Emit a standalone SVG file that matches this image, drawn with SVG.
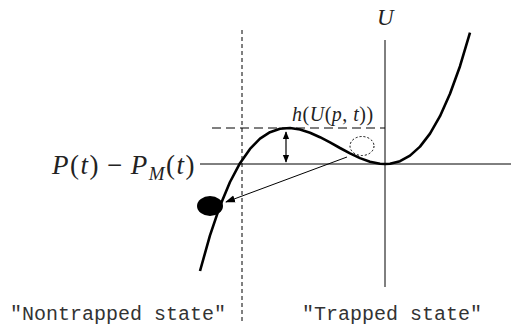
<svg xmlns="http://www.w3.org/2000/svg" width="511" height="330" viewBox="0 0 511 330">
<style>
.ax{stroke:#000;stroke-width:1;fill:none}
.dash{stroke:#000;stroke-width:1;fill:none}
.math{font-family:"Liberation Serif","DejaVu Serif",serif;fill:#222}
.it{font-style:italic}
.mono{font-family:"Liberation Mono","Courier New",monospace;font-size:20px;fill:#333}
</style>
<defs>
<marker id="ah" viewBox="0 0 10 10" refX="9" refY="5" markerWidth="8" markerHeight="8" markerUnits="userSpaceOnUse" orient="auto-start-reverse">
<path d="M0,1 L10,5 L0,9 z" fill="#000"/>
</marker>
<marker id="ah2" viewBox="0 0 10 10" refX="9" refY="5" markerWidth="10" markerHeight="10" markerUnits="userSpaceOnUse" orient="auto">
<path d="M0,1.5 L10,5 L0,8.5 z" fill="#000"/>
</marker>
</defs>
<g id="axes">
<line class="ax" x1="385" y1="40" x2="385" y2="287"/>
<line class="ax" x1="200" y1="164" x2="511" y2="164"/>
<line class="dash" x1="242" y1="30" x2="242" y2="322" stroke-dasharray="4,3"/>
<line class="dash" x1="212" y1="128" x2="385" y2="128" stroke-dasharray="9,5"/>
</g>
<g id="curve">
<path d="M200,271 L210,235.3 L220,205.9 L230,182 L240,163.2 L250,148.9 L260,138.7 L270,132.2 L280,128.8 L290,128 L300,129.5 L310,132.7 L320,137.2 L330,142.4 L340,148 L350,153.3 L360,158.1 L370,161.7 L380,163.7 L385,164 L390,163.7 L400,161.2 L410,155.6 L420,146.6 L430,133.6 L440,116.2 L450,93.8 L460,66.2 L470,32.6" fill="none" stroke="#000" stroke-width="2.6" stroke-linejoin="round"/>
</g>
<g id="trapped-ball">
<ellipse cx="362" cy="146" rx="12" ry="9.5" fill="none" stroke="#000" stroke-width="1" stroke-dasharray="2,2"/>
</g>
<g id="escaped-ball">
<ellipse cx="210" cy="206" rx="13" ry="10" fill="#000"/>
</g>
<g id="connectors">
<line x1="286" y1="132" x2="286" y2="162" stroke="#000" stroke-width="1.2" marker-start="url(#ah)" marker-end="url(#ah)"/>
<line x1="347" y1="157" x2="226" y2="202" stroke="#000" stroke-width="1" marker-end="url(#ah2)"/>
</g>
<g id="labels">
<text class="math it" x="377" y="25" font-size="23">U</text>
<text class="math" x="292" y="121" font-size="20" letter-spacing="0.5"><tspan class="it">h</tspan>(<tspan class="it">U</tspan>(<tspan class="it">p</tspan>, <tspan class="it">t</tspan>))</text>
<text class="math" x="52" y="174" font-size="27" letter-spacing="1.5"><tspan class="it">P</tspan>(<tspan class="it">t</tspan>)<tspan dx="7">−</tspan><tspan class="it" dx="7">P</tspan><tspan class="it" font-size="19" dy="6">M</tspan><tspan dy="-6">(</tspan><tspan class="it">t</tspan>)</text>
<text class="mono" x="10" y="320">"Nontrapped state"</text>
<text class="mono" x="302" y="320">"Trapped state"</text>
</g>
</svg>
